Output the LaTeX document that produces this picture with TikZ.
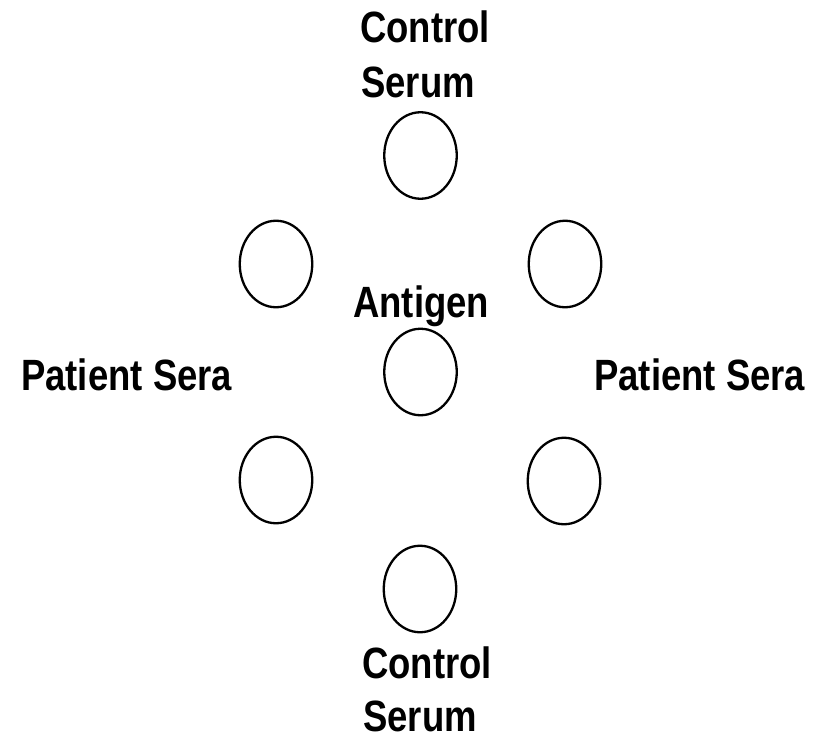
\documentclass[tikz,border=0pt]{standalone}
\usepackage{fontspec}
\setmainfont{Liberation Sans}
\usetikzlibrary{shapes.geometric}
\tikzset{
  well/.style={draw, ellipse, line width=2.3pt, inner sep=0pt, minimum width=72.5pt, minimum height=86.5pt},
  lbl/.style={anchor=base west, inner sep=0pt, font=\fontsize{36.5}{46}\selectfont\bfseries}
}
\newcommand{\tall}[1]{\scalebox{1}[1.2]{#1}}
\begin{document}
\begin{tikzpicture}[x=1pt,y=-1pt]
\useasboundingbox[fill=white] (0,0) rectangle (826,738);
\node[well] (top) at (420.5,155.5) {};
\node[well] (ul) at (276,264) {};
\node[well] (ur) at (565,264) {};
\node[well] (mid) at (420.5,372) {};
\node[well] (ll) at (276,480) {};
\node[well] (lr) at (564,481) {};
\node[well] (bot) at (420,589) {};
\node[lbl] (tc) at (360,43) {\tall{Control}};
\node[lbl] (ts) at (361,98) {\tall{Serum}};
\node[lbl] (ag) at (353,317) {\tall{Antigen}};
\node[lbl] (pl) at (21,390) {\tall{Patient Sera}};
\node[lbl] (pr) at (594,390) {\tall{Patient Sera}};
\node[lbl] (bc) at (362,678) {\tall{Control}};
\node[lbl] (bs) at (363,731) {\tall{Serum}};
\end{tikzpicture}
\end{document}
